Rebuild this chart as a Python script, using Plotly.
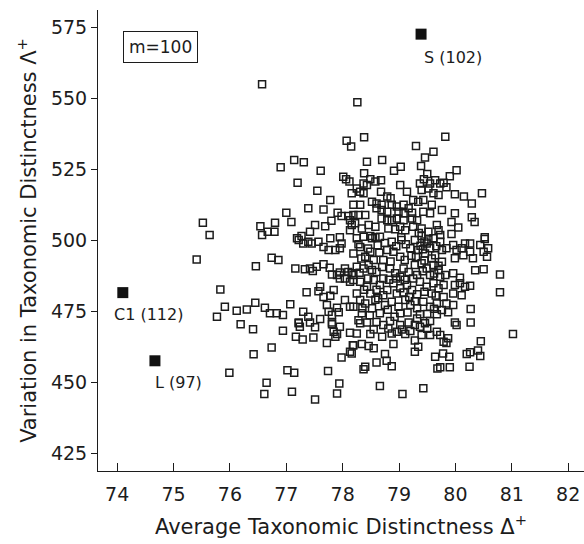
import plotly.graph_objects as go

# ---- data ----
open_pts = [
# upper-left part of cluster
(76.90,525.6),(77.14,528.2),(77.31,527.4),(77.61,524.4),(77.20,520.2),(77.55,517.4),(78.01,522.3),(78.06,521.4),
(78.12,520.6),(78.16,516.5),(77.78,514.1),(77.39,511.2),(77.66,510.8),(77.91,509.6),(77.98,508.5),(78.10,508.5),
(78.13,507.0),(78.16,505.3),(77.00,509.6),(77.09,506.4),(76.80,506.1),(76.54,504.9),(76.67,502.9),(76.79,502.9),
(76.57,501.8),(77.51,505.3),(77.42,502.9),(77.69,504.9),(77.80,506.8),(77.27,501.4),(77.19,500.6),(77.78,500.6),
(77.95,501.0),(78.13,503.5),
# upper-middle
(78.43,527.6),(78.70,528.2),(78.91,524.4),(79.03,525.8),(79.46,529.1),(79.61,531.1),(79.39,526.1),(79.50,523.3),
(78.38,523.5),(78.49,521.4),(78.58,520.6),(78.68,521.1),(78.37,519.9),(78.43,519.4),(78.25,518.2),(78.31,517.0),
(78.37,516.5),(79.02,519.4),(79.14,517.0),(78.68,517.0),(79.37,519.9),(79.44,521.4),(79.55,519.9),(79.64,521.1),
(79.73,519.9),(79.40,517.6),(79.52,518.2),(79.61,516.5),(79.70,515.9),(78.79,515.3),(78.85,514.7),(79.25,514.1),
(79.34,513.5),(79.43,514.1),(79.58,512.4),(79.76,510.6),(78.52,513.5),(78.60,512.9),(78.69,512.4),(78.19,512.4),
(78.31,512.4),(78.87,512.4),(78.96,511.8),(79.08,512.4),(79.17,511.2),(78.60,511.2),(78.69,510.6),(78.79,510.0),
(78.99,510.0),(79.08,509.4),(79.23,509.6),(79.43,510.0),(79.55,509.4),(78.19,508.8),(78.28,508.8),(78.40,508.8),
(78.69,507.6),(78.79,507.0),(78.87,507.0),(78.96,507.6),(79.08,507.0),(79.23,507.6),(79.32,507.0),(78.22,505.9),
(78.34,504.1),(78.46,505.3),(78.58,504.7),(78.81,504.1),(78.93,503.8),(79.02,504.7),(79.11,503.5),(79.25,504.7),
(79.40,504.1),(79.52,502.9),(79.67,505.3),(79.70,503.5),(79.73,501.8),(78.49,501.4),(78.58,501.0),(79.04,501.0),
(79.40,501.4),
# upper-right
(80.02,524.6),(79.90,522.5),(79.79,520.2),(79.84,518.6),(79.99,516.1),(80.15,515.3),(80.29,512.9),(80.47,516.5),
(79.99,509.4),(79.93,506.4),(80.05,504.4),(79.93,502.1),(80.29,508.0),(80.34,506.4),(80.52,501.0),
# middle-left
(77.22,500.0),(77.30,498.8),(77.39,499.4),(77.45,498.8),(77.57,499.4),(77.66,497.6),(77.75,496.5),(77.87,496.5),
(77.95,497.1),(77.98,498.8),(76.74,493.8),(76.86,493.0),(77.16,490.0),(77.33,489.7),(77.42,490.0),(77.47,489.1),
(77.54,490.6),(77.66,491.5),(77.77,490.3),(77.81,487.9),(77.90,487.7),(77.95,488.6),(78.04,490.0),(78.10,488.8),
(78.16,488.3),(77.95,486.5),(78.04,486.5),(78.13,485.3),(78.19,485.9),(77.36,481.6),(77.60,483.6),(77.57,482.0),
(77.66,480.0),(77.78,480.4),(77.84,482.4),(78.04,478.9),(78.13,476.5),(77.07,477.4),(77.72,477.1),(77.75,474.8),
(77.81,473.6),(77.93,474.6),(77.90,476.2),(76.62,476.2),(76.71,474.2),(76.83,474.2),(76.94,473.6),(77.30,474.8),
(77.39,473.0),(77.60,472.2),(77.22,471.0),(77.42,471.0),(77.81,471.0),
# dense centre
(78.25,500.6),(78.37,501.2),(78.52,500.6),(78.66,501.2),(78.87,499.4),(79.04,500.0),(79.28,500.0),(79.49,498.8),
(79.61,500.6),(79.73,499.4),(78.19,495.3),(78.31,497.6),(78.40,494.1),(78.49,495.9),(78.72,493.0),(78.79,496.5),
(78.90,495.9),(79.02,494.1),(79.20,497.1),(79.34,496.5),(79.46,495.3),(79.55,497.1),(79.64,494.7),(79.76,496.5),
(78.25,490.6),(78.37,490.0),(78.46,491.2),(78.60,488.8),(78.84,490.0),(78.93,488.3),(79.08,490.0),(79.17,488.8),
(79.28,491.2),(79.40,491.8),(79.49,490.0),(79.61,491.2),(79.70,489.4),(79.76,492.4),(78.19,487.7),(78.72,486.5),
(79.02,487.1),(79.32,487.7),(79.55,487.7),(79.73,487.1),(78.31,485.3),(78.43,483.6),(78.55,485.9),(78.66,484.2),
(78.79,482.4),(78.90,484.8),(79.02,483.0),(79.14,484.2),(79.23,482.4),(79.37,485.3),(79.49,483.6),(79.61,484.8),
(79.70,483.0),(79.79,484.2),(78.25,481.2),(78.49,481.2),(78.72,480.6),(78.96,481.2),(79.32,480.9),(79.58,481.2),
(78.19,476.5),(78.31,478.9),(78.40,477.7),(78.52,476.0),(78.63,479.5),(78.75,477.1),(78.87,478.3),(78.99,476.5),
(79.11,478.9),(79.20,477.1),(79.32,476.0),(79.43,478.3),(79.55,476.5),(79.67,477.7),(79.76,475.4),(78.34,474.2),
(78.66,474.2),(79.02,474.2),(79.37,473.9),(79.67,473.9),(78.28,471.8),(78.43,471.0),(78.84,471.5),(79.17,471.0),
(79.32,472.4),(79.55,471.5),
# dense centre, overlapping squares
(78.28,498.5),(78.45,497.0),(78.62,498.2),(78.75,499.0),(78.95,497.8),(79.12,498.5),(79.38,498.0),(79.52,500.2),
(79.66,497.8),(78.33,493.5),(78.55,493.0),(78.65,495.5),(78.85,492.5),(79.10,493.0),(79.22,494.5),(79.45,492.8),
(79.58,493.5),(79.70,491.0),(78.30,488.5),(78.52,489.5),(78.70,490.5),(78.95,486.5),(79.10,486.0),(79.25,486.5),
(79.42,489.0),(79.62,488.2),(78.45,486.5),(78.38,482.5),(78.60,482.5),(78.82,486.0),(79.08,481.5),(79.18,480.0),
(79.45,481.8),(79.65,480.5),(78.58,479.0),(78.35,476.0),(78.48,473.5),(78.80,475.5),(78.92,473.0),(79.15,474.5),
(79.28,478.5),(79.50,474.0),(79.62,475.8),(78.55,468.5),(78.70,466.0),(79.05,468.5),(79.20,468.0),(79.50,468.8),
(79.35,502.5),(79.45,499.5),(79.42,496.8),(79.30,494.0),
# middle-right
(79.84,497.1),(79.96,498.3),(80.02,496.5),(80.11,497.1),(80.17,498.8),(80.26,498.8),(80.26,495.9),(80.44,498.3),
(80.52,500.4),(80.58,497.1),(80.50,495.9),(80.56,494.1),(79.99,493.6),(80.14,494.7),(80.31,493.6),(80.35,489.4),
(80.50,489.7),(80.79,487.9),(79.82,487.7),(79.96,488.3),(80.08,486.7),(79.99,484.2),(80.08,484.8),(80.17,483.6),
(80.26,483.9),(79.96,481.2),(80.11,480.6),(80.79,481.6),(79.79,480.0),(79.84,477.7),(79.96,477.1),(79.87,474.6),
(80.27,475.7),(79.99,471.0),(80.27,471.0),
# lower-left
(77.22,470.7),(77.24,469.5),(77.51,469.3),(76.94,468.1),(77.17,466.0),(77.29,465.0),(77.48,465.7),(77.81,470.4),
(77.95,469.5),(77.84,467.7),(77.87,466.0),(77.90,466.9),(77.72,463.8),(78.13,467.4),(76.74,462.2),(77.98,458.7),
(78.13,460.7),(78.18,463.0),(77.02,454.2),(77.14,453.3),(77.74,453.9),(76.65,449.8),(77.94,449.5),(76.61,445.8),
(77.10,446.6),(77.90,446.0),(77.51,443.9),
# lower-middle
(78.25,467.1),(78.49,466.9),(78.31,470.7),(78.60,471.2),(78.72,470.1),(78.81,468.9),(78.87,467.1),(78.96,467.7),
(79.11,466.9),(79.02,470.1),(79.28,470.1),(79.37,469.5),(79.46,470.7),(79.40,466.6),(79.55,466.6),(79.67,467.7),
(79.73,466.6),(78.19,463.0),(78.34,463.4),(78.46,462.7),(78.55,461.9),(78.90,463.4),(79.28,464.6),(79.28,460.7),
(79.34,462.4),(78.16,460.1),(78.75,459.9),(78.78,457.5),(78.87,455.6),(78.60,456.9),(78.40,455.4),(78.37,454.5),
(79.64,458.9),(79.68,454.8),(79.78,460.1),(78.66,448.6),(79.06,445.8),(79.43,447.8),
# lower-right
(80.02,470.1),(81.02,466.9),(79.87,465.4),(79.79,464.2),(79.84,463.8),(80.45,464.4),(79.89,458.9),(80.20,459.9),
(80.26,460.5),(80.40,461.1),(80.44,459.2),(79.73,455.2),(79.90,455.2),(80.25,455.4),
# left outliers
(75.52,506.1),(75.64,501.8),(75.41,493.2),(76.46,490.8),(75.83,482.6),(75.91,476.5),(75.77,473.0),(76.12,475.1),
(76.30,475.6),(76.45,477.9),(76.19,470.4),(76.41,468.6),(76.42,459.8),(75.99,453.3),
# top outliers
(76.57,554.9),(78.26,548.5),(78.07,535.0),(78.15,532.9),(78.38,536.2),(79.30,533.1),(79.82,536.4),
]
open_x = [p[0] for p in open_pts]
open_y = [p[1] for p in open_pts]

site_names = ["S (102)", "C1 (112)", "L (97)"]
site_x = [79.39, 74.10, 74.67]
site_y = [572.5, 481.5, 457.5]

x_ticks = [74, 75, 76, 77, 78, 79, 80, 81, 82]
y_ticks = [425, 450, 475, 500, 525, 550, 575]

FONT = "DejaVu Sans"
INK = "#1c1c1c"

fig = go.Figure()
fig.add_trace(go.Scatter(
    x=open_x, y=open_y, mode="markers",
    marker=dict(symbol="square-open", size=7, color=INK, line=dict(width=1.5, color=INK)),
    showlegend=False, hoverinfo="skip"))
fig.add_trace(go.Scatter(
    x=site_x, y=site_y, mode="markers",
    marker=dict(symbol="square", size=11, color="#111111", line=dict(width=0)),
    showlegend=False, hoverinfo="skip"))

label_offsets = [(0.57, -8.3), (0.45, -7.8), (0.41, -7.7)]
for name, sx, sy, (dx, dy) in zip(site_names, site_x, site_y, label_offsets):
    fig.add_annotation(x=sx + dx, y=sy + dy, text=name, showarrow=False,
                       font=dict(family=FONT, size=16, color=INK))

fig.add_annotation(x=74.76, y=568, text="m=100", showarrow=False,
                   font=dict(family=FONT, size=17, color=INK),
                   bordercolor=INK, borderwidth=1, borderpad=5, bgcolor="white")

fig.update_layout(
    width=584, height=544,
    margin=dict(l=98, r=0, t=10, b=73),
    paper_bgcolor="white", plot_bgcolor="white",
    font=dict(family=FONT, color=INK),
    xaxis=dict(range=[73.66, 82.28], tickvals=x_ticks, ticks="inside", ticklen=8,
               tickcolor=INK, showline=True, linecolor=INK, linewidth=1,
               showgrid=False, zeroline=False, tickfont=dict(size=19),
               ticklabelstandoff=6,
               title=dict(text="Average Taxonomic Distinctness Δ<sup>+</sup>",
                          font=dict(size=21), standoff=15)),
    yaxis=dict(range=[418.7, 581], tickvals=y_ticks, ticks="outside", ticklen=6,
               tickcolor=INK, showline=True, linecolor=INK, linewidth=1,
               showgrid=False, zeroline=False, tickfont=dict(size=19),
               title=dict(text="Variation in Taxonomic Distinctness Λ<sup>+</sup>",
                          font=dict(size=21), standoff=8)),
)
fig.write_html("out.html")
